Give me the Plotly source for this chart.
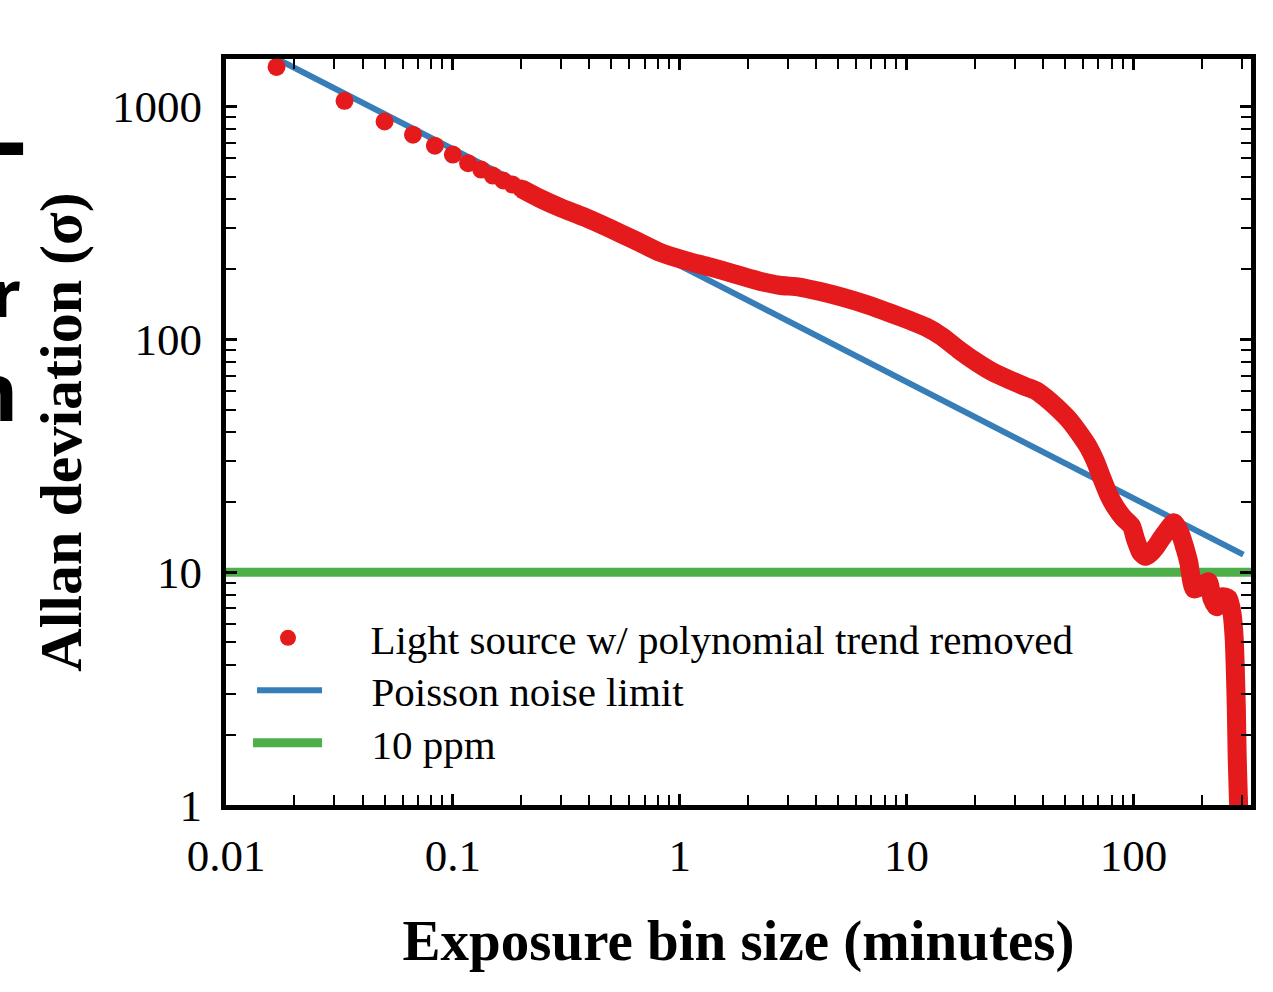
import plotly.graph_objects as go

# Allan deviation of the light source (polynomial trend removed)
bin_minutes = [
    0.0167, 0.0333, 0.05, 0.0667, 0.0833, 0.1, 0.1167, 0.1333, 0.15, 0.1667, 0.1833, 0.2,
    0.243, 0.297, 0.382, 0.492, 0.634, 0.817, 1.05, 1.355, 1.75, 2.25, 2.75, 3.37,
    4.12, 5.2, 6.7, 8.63, 10.26, 12.2, 14.3, 17.0, 20.2, 23.8, 28.3, 33.5, 37.1,
    41.0, 45.4, 51.8, 59.0, 63.4, 68.0, 72.3, 77.6, 83.4, 90.4, 98.0, 102.0, 107.5,
    113.0, 119.0, 125.0, 133.0, 140.0, 151.0, 161.0, 169.0, 175.0, 185.0, 199.0,
    214.0, 222.0, 232.0, 246.0, 262.0, 272.0, 278.0, 281.0, 284.0, 286.6, 290.0, 293.0,
]
allan_sigma = [
    1482, 1060, 864, 758, 680, 623, 572, 537, 506, 482, 463, 445,
    403, 369, 335, 300, 267, 237, 219, 205, 191, 178, 171, 168,
    161, 152, 141, 129, 121, 113, 103, 90.3, 80.2, 72.7, 67.2, 62.7, 60.3,
    56.2, 51.5, 45.3, 38.3, 34.4, 29.9, 25.6, 21.6, 19.0, 17.1, 15.8, 13.9, 12.2,
    11.7, 12.1, 12.8, 14.0, 15.0, 16.3, 14.6, 12.6, 11.1, 8.48, 8.74,
    9.09, 7.69, 7.11, 7.84, 7.7, 6.63, 5.18, 3.86, 2.60, 1.59, 1.07, 0.8,
]
n_sparse = 12  # first points are drawn as isolated dots

poisson_minutes = [0.01667, 305]
poisson_sigma = [1611, 11.9]

ppm_minutes = [0.01, 330]
ppm_sigma = [10, 10]

x_major = [0.01, 0.1, 1, 10, 100]
x_major_text = ["0.01", "0.1", "1", "10", "100"]
y_major = [1, 10, 100, 1000]
y_major_text = ["1", "10", "100", "1000"]
x_minor = [m * 10.0 ** e for e in range(-2, 3) for m in range(2, 10) if m * 10.0 ** e < 330]
y_minor = [m * 10.0 ** e for e in range(0, 4) for m in range(2, 10) if m * 10.0 ** e < 1600]

RED = "#e41a1c"
BLUE = "#377eb8"
GREEN = "#4daf4a"
SERIF = "Liberation Serif"
PAD = "\u2003\u200a"  # gap between legend symbol and label

fig = go.Figure()
fig.add_trace(go.Scatter(
    x=poisson_minutes, y=poisson_sigma, mode="lines",
    line=dict(color=BLUE, width=6), name=PAD + "Poisson noise limit", legend="legend2",
))
fig.add_trace(go.Scatter(
    x=ppm_minutes, y=ppm_sigma, mode="lines",
    line=dict(color=GREEN, width=9), name=PAD + "10 ppm", legend="legend3",
))
fig.add_trace(go.Scatter(
    x=bin_minutes[n_sparse - 1:], y=allan_sigma[n_sparse - 1:], mode="lines",
    line=dict(color=RED, width=19, shape="spline", smoothing=0.6),
    showlegend=False, hoverinfo="skip",
))
fig.add_trace(go.Scatter(
    x=bin_minutes, y=allan_sigma, mode="markers",
    marker=dict(color=RED, size=18, line=dict(width=0)),
    name=PAD + "Light source w/ polynomial trend removed", legend="legend",
))

axis_common = dict(
    type="log", showline=True, linewidth=5, linecolor="black", mirror="ticks",
    ticks="inside", ticklen=11, tickwidth=3, tickcolor="black",
    showgrid=False, zeroline=False, tickmode="array", automargin=False,
    tickfont=dict(family=SERIF, size=45, color="black"),
)
fig.update_xaxes(
    **axis_common, range=[-2, 2.518], tickvals=x_major, ticktext=x_major_text,
    minor=dict(tickmode="array", tickvals=x_minor, ticks="inside", ticklen=10,
               tickwidth=2, tickcolor="black", showgrid=False),
    ticklabelstandoff=7,
    title=dict(text="<b>Exposure bin size (minutes)</b>", standoff=42,
               font=dict(family=SERIF, size=57, color="black")),
)
fig.update_yaxes(
    **axis_common, range=[0, 3.205], tickvals=y_major, ticktext=y_major_text,
    minor=dict(tickmode="array", tickvals=y_minor, ticks="inside", ticklen=10,
               tickwidth=2, tickcolor="black", showgrid=False),
    ticklabelstandoff=10,
    title=dict(text="<b>Allan deviation (σ)</b>", standoff=13,
               font=dict(family=SERIF, size=60, color="black")),
)

legend_common = dict(
    xanchor="left", yanchor="top", bgcolor="rgba(0,0,0,0)",
    font=dict(family=SERIF, size=41, color="black"),
)
frag_font = dict(family="Noto Sans", color="black")

fig.update_layout(
    width=1273, height=992,
    margin=dict(l=226, r=22, t=59, b=187, autoexpand=False),
    paper_bgcolor="white", plot_bgcolor="white",
    font=dict(family=SERIF, color="black"),
    legend=dict(**legend_common, x=0.0234, y=0.2685, itemwidth=66),
    legend2=dict(**legend_common, x=0.0254, y=0.1984, itemwidth=65),
    legend3=dict(**legend_common, x=0.0215, y=0.1280, itemwidth=69),
    annotations=[
        dict(text="<b>-</b>", xref="paper", yref="paper", x=-0.1932, y=0.8960,
             xanchor="right", yanchor="middle", showarrow=False,
             font=dict(**frag_font, size=100)),
        dict(text="<b>r</b>", xref="paper", yref="paper", x=-0.1979, y=0.6870,
             xanchor="right", yanchor="middle", showarrow=False,
             font=dict(**frag_font, size=64)),
        dict(text="<b>n</b>", xref="paper", yref="paper", x=-0.2010, y=0.5576,
             xanchor="right", yanchor="middle", showarrow=False,
             font=dict(**frag_font, size=80)),
    ],
)

fig.write_html(
    "out.html",
    config={"displayModeBar": False},
    post_script="document.body.style.margin='0px';",
)
